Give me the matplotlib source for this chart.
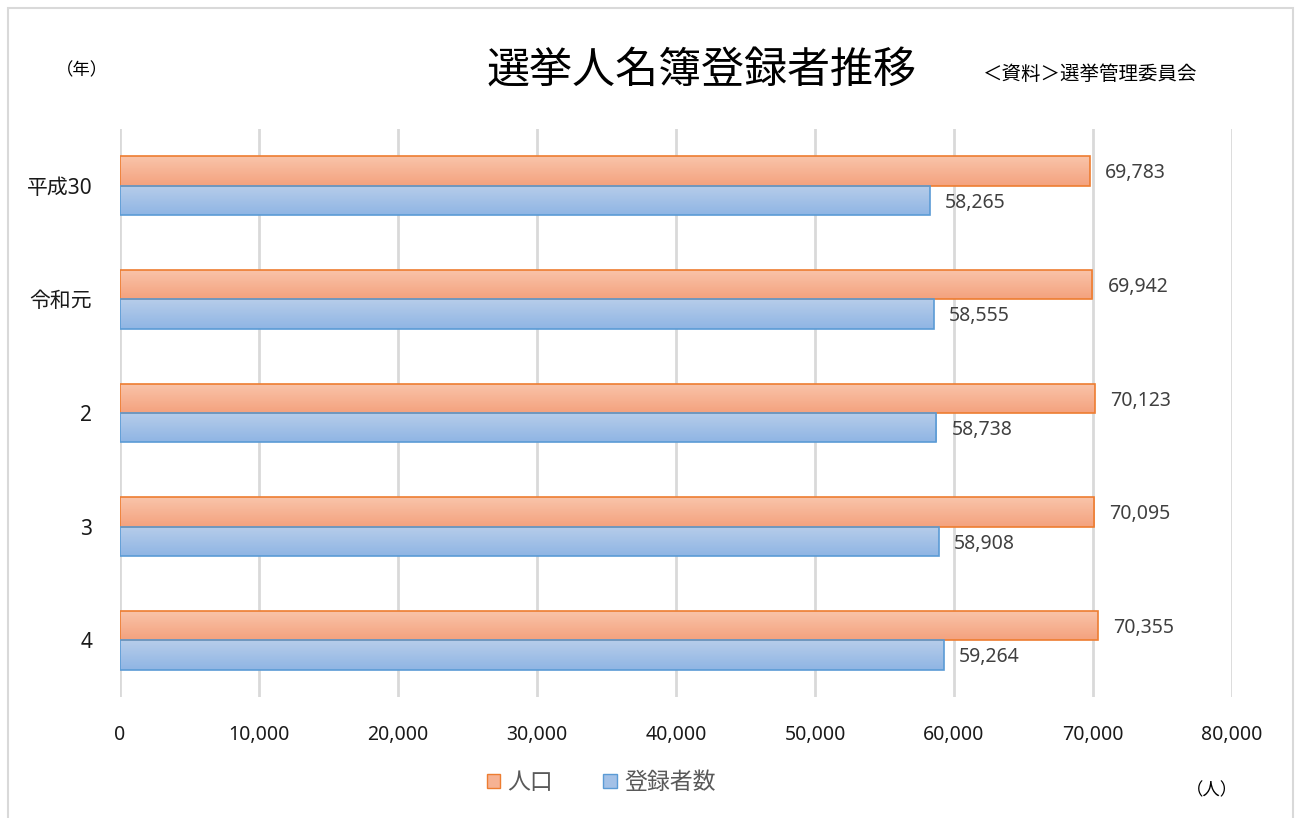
import matplotlib
matplotlib.use("Agg")
import matplotlib.pyplot as plt
import numpy as np
from matplotlib.patches import Rectangle, Patch
from matplotlib.colors import LinearSegmentedColormap

plt.rcParams['font.family'] = ['Noto Sans', 'Noto Sans CJK JP', 'DejaVu Sans']

categories = ['平成30', '令和元', '2', '3', '4']
population = [69783, 69942, 70123, 70095, 70355]
registered = [58265, 58555, 58738, 58908, 59264]
series_names = ['人口', '登録者数']
xticks = [0, 10000, 20000, 30000, 40000, 50000, 60000, 70000, 80000]

fig = plt.figure(figsize=(13.01, 8.18), dpi=100)
fig.patches.append(Rectangle((8/1301, -0.01), 1285/1301, 1 - 8/818 + 0.01, transform=fig.transFigure,
                             fill=False, edgecolor='#d9d9d9', linewidth=1.5))
ax = fig.add_axes([120/1301, 1 - 697/818, 1112/1301, 568/818])

y = np.arange(len(categories))
h = 0.258
orange_cmap = LinearSegmentedColormap.from_list('o', ['#f9c4aa', '#f4a27e'])
blue_cmap = LinearSegmentedColormap.from_list('b', ['#b7cdea', '#8fb5e4'])

b1 = ax.barh(y - h/2, population, height=h, color='none', edgecolor='#ed7d31', linewidth=1.2, zorder=3)
b2 = ax.barh(y + h/2, registered, height=h, color='none', edgecolor='#5b9bd5', linewidth=1.2, zorder=3)

grad = np.linspace(0, 1, 64).reshape(-1, 1)
for bars, cmap in ((b1, orange_cmap), (b2, blue_cmap)):
    for p in bars:
        x0, y0 = p.get_x(), p.get_y()
        w, hh = p.get_width(), p.get_height()
        im = ax.imshow(grad, cmap=cmap, aspect='auto', extent=(x0, x0 + w, y0 + hh, y0),
                       origin='upper', zorder=2, interpolation='bicubic')
        im.set_clip_path(p)

for bars, vals in ((b1, population), (b2, registered)):
    for p, v in zip(bars, vals):
        ax.text(v + 1100, p.get_y() + p.get_height()/2 + 0.02, f'{v:,}', va='center', ha='left',
                fontsize=14, color='#404040')

ax.set_xlim(0, 80000)
ax.set_ylim(len(categories) - 0.5, -0.5)
ax.set_xticks(xticks)
ax.set_xticklabels([f'{t:,}' for t in xticks], fontsize=14, color='#1a1a1a')
ax.set_yticks(y)
ax.set_yticklabels(categories, fontsize=15, color='#1a1a1a')
ax.tick_params(axis='both', length=0)
ax.tick_params(axis='x', pad=20)
ax.tick_params(axis='y', pad=20)
ax.xaxis.grid(True, color='#d9d9d9', linewidth=2, zorder=0)
ax.set_axisbelow(True)
for s in ax.spines.values():
    s.set_visible(False)

fig.text(702/1301, 1 - 73/818, '選挙人名簿登録者推移', ha='center', va='center', fontsize=31, color='#000000')
fig.text(1090/1301, 1 - 75/818, '＜資料＞選挙管理委員会', ha='center', va='center', fontsize=14, color='#000000')
fig.text(82/1301, 1 - 70/818, '（年）', ha='center', va='center', fontsize=12.5, color='#000000')
fig.text(1212/1301, 1 - 790/818, '（人）', ha='center', va='center', fontsize=12.5, color='#000000')

handles = [Patch(facecolor='#f6b293', edgecolor='#ed7d31', label=series_names[0]),
           Patch(facecolor='#a3c1e7', edgecolor='#5b9bd5', label=series_names[1])]
leg = fig.legend(handles=handles, loc='center', bbox_to_anchor=(601/1301, 1 - 783/818), ncol=2,
                 frameon=False, fontsize=16.5, handlelength=0.6, handleheight=0.6, handletextpad=0.3,
                 columnspacing=2.2, labelcolor='#595959')

fig.savefig('out.png', dpi=100)
